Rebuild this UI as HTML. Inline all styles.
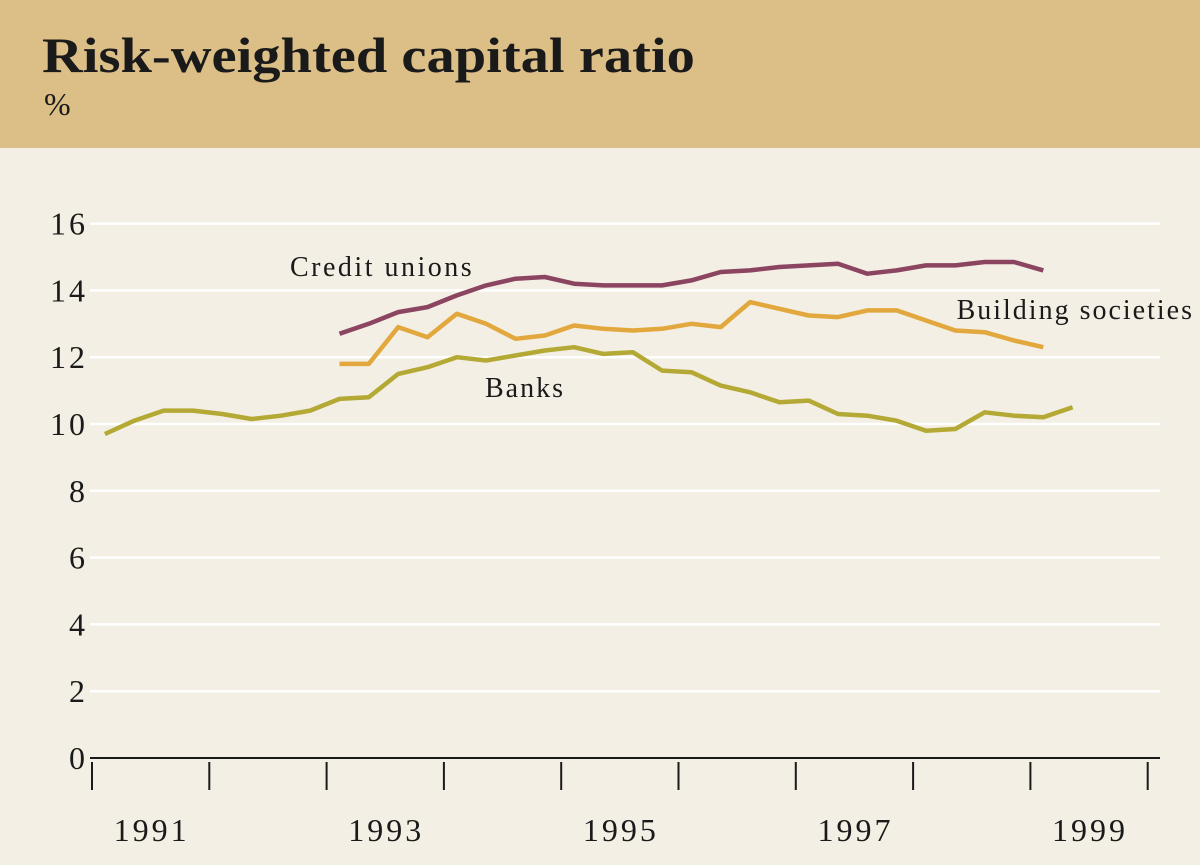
<!DOCTYPE html>
<html><head><meta charset="utf-8"><style>
html,body{margin:0;padding:0;}
body{width:1200px;height:865px;background:#f3efe4;font-family:"Liberation Serif",serif;overflow:hidden;}
#hdr{position:absolute;left:0;top:0;width:1200px;height:148px;background:#dcbe87;}
#title{position:absolute;left:42px;top:26px;font-size:50px;font-weight:bold;color:#1a1a1a;letter-spacing:0px;transform:scaleX(1.13);transform-origin:0 0;white-space:nowrap;}
#unit{position:absolute;left:44px;top:86px;font-size:32px;color:#1a1a1a;}
svg{position:absolute;left:0;top:0;}
</style></head><body>
<div id="hdr"></div>
<div id="title">Risk-weighted capital ratio</div>
<div id="unit">%</div>
<svg id="chart" width="1200" height="865"></svg>
<script>
const yTicks=[0,2,4,6,8,10,12,14,16];
const xTickYears=[1991,1992,1993,1994,1995,1996,1997,1998,1999,2000];
const xLabels=[1991,1993,1995,1997,1999];
const banks=[9.7,10.1,10.4,10.4,10.3,10.15,10.25,10.4,10.75,10.8,11.5,11.7,12.0,11.9,12.05,12.2,12.3,12.1,12.15,11.6,11.55,11.15,10.95,10.65,10.7,10.3,10.25,10.1,9.8,9.85,10.35,10.25,10.2,10.5];
const building=[11.8,11.8,12.9,12.6,13.3,13.0,12.55,12.65,12.95,12.85,12.8,12.85,13.0,12.9,13.65,13.45,13.25,13.2,13.4,13.4,13.1,12.8,12.75,12.5,12.3];
const credit=[12.7,13.0,13.35,13.5,13.85,14.15,14.35,14.4,14.2,14.15,14.15,14.15,14.3,14.55,14.6,14.7,14.75,14.8,14.5,14.6,14.75,14.75,14.85,14.85,14.6];
const banksStart=0, othersStart=8;
const svg=document.getElementById('chart');
const NS='http://www.w3.org/2000/svg';
const X=t=>92+(t-1991)*117.3;
const Y=v=>758-v*33.4;
const qT=i=>1991.11+0.25*i;
function mk(tag,attrs){const e=document.createElementNS(NS,tag);for(const k in attrs)e.setAttribute(k,attrs[k]);svg.appendChild(e);return e;}
yTicks.forEach(v=>{
  const l=mk('line',{x1:90,x2:1160,y1:Y(v),y2:Y(v),stroke:v===0?'#1a1a1a':'#ffffff','stroke-width':v===0?2:2.5});
  
  
  const t=mk('text',{x:88,y:Y(v)+11,'text-anchor':'end','font-size':32,'letter-spacing':3,fill:'#1a1a1a','font-family':'Liberation Serif, serif'});
  t.textContent=v;
  
  
});
xTickYears.forEach(yr=>{
  const l=mk('line',{x1:X(yr),x2:X(yr),y1:762,y2:790,stroke:'#1a1a1a','stroke-width':2});
  
  
});
xLabels.forEach(yr=>{
  const t=mk('text',{x:X(yr+0.5)+1,y:841,'text-anchor':'middle','font-size':32,'letter-spacing':3,fill:'#1a1a1a','font-family':'Liberation Serif, serif'});
  t.textContent=yr;
  
  
});
function line(arr,start,color,name){
  const pts=arr.map((v,i)=>X(qT(start+i)).toFixed(1)+','+Y(v).toFixed(1)).join(' ');
  const p=mk('polyline',{points:pts,fill:'none',stroke:color,'stroke-width':4.5,'stroke-linejoin':'round'});
  
  
}
line(banks,banksStart,'#b4a935','banks-line');
line(building,othersStart,'#e2a73d','building-societies-line');
line(credit,othersStart,'#8c4560','credit-unions-line');
[['Credit unions',290,276,'start','label-credit-unions',2.5],['Building societies',1194,319,'end','label-building-societies',2],['Banks',485,397,'start','label-banks',2]].forEach(a=>{
  const t=mk('text',{x:a[1],y:a[2],'text-anchor':a[3],'font-size':28,'letter-spacing':a[5],fill:'#1a1a1a','font-family':'Liberation Serif, serif'});
  t.textContent=a[0];
  
  
});
</script>
</body></html>
